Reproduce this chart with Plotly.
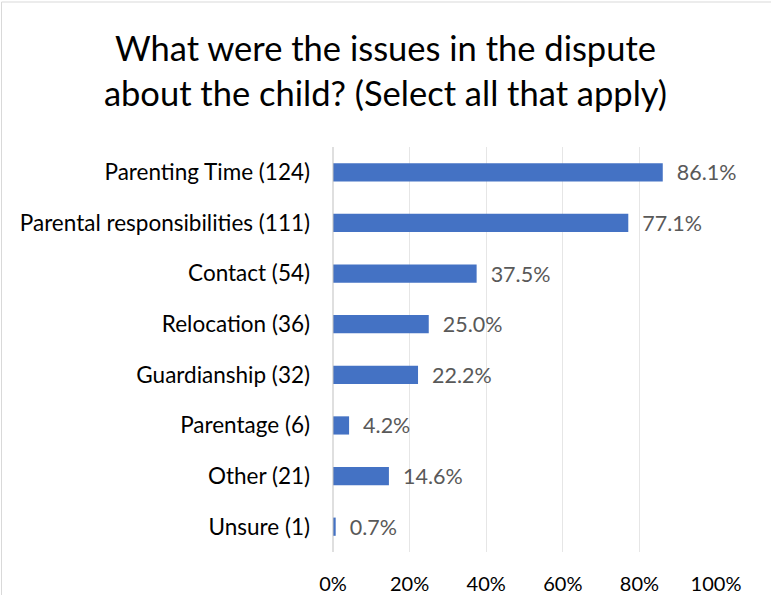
import plotly.graph_objects as go

categories = ["Parenting Time (124)", "Parental responsibilities (111)", "Contact (54)",
              "Relocation (36)", "Guardianship (32)", "Parentage (6)", "Other (21)", "Unsure (1)"]
percent = [86.1, 77.1, 37.5, 25.0, 22.2, 4.2, 14.6, 0.7]
x_ticks = [0, 20, 40, 60, 80, 100]
x_tick_labels = ["0%", "20%", "40%", "60%", "80%", "100%"]

FONT = "Lato, Calibri, Carlito, sans-serif"

fig = go.Figure(go.Bar(
    x=percent, y=categories, orientation="h",
    marker=dict(color="#4472C4", line=dict(width=0)),
    width=0.36,
    text=[f"  {v:.1f}%" for v in percent],
    textposition="outside",
    constraintext="none",
    textfont=dict(family=FONT, size=21.5, color="#595959"),
    cliponaxis=False,
))

L, R, T, B = 333, 55, 147, 43
W, H = 771, 595
pw, ph = W - L - R, H - T - B

def px_x(p):
    return (p - L) / pw

def px_y(p):
    return (T + ph - p) / ph

fig.update_layout(
    width=W, height=H,
    margin=dict(l=L, r=R, t=T, b=B, autoexpand=False),
    paper_bgcolor="white", plot_bgcolor="white",
    font=dict(family=FONT, size=21, color="#000000"),
    title=dict(text="What were the issues in the dispute<br>about the child? (Select all that apply)",
               x=0.5, xref="container", xanchor="center",
               y=1 - 61 / H, yref="container", yanchor="middle",
               font=dict(family=FONT, size=34.5, color="#000000")),
    showlegend=False,
    xaxis=dict(range=[0, 100], tickvals=x_ticks, ticktext=x_tick_labels,
               showgrid=True, gridcolor="#E6E6E6", gridwidth=1,
               zeroline=False, showline=False, ticks="",
               ticklabelstandoff=18, automargin=False,
               tickfont=dict(family=FONT, size=20, color="#000000")),
    yaxis=dict(autorange="reversed", showgrid=False, zeroline=False,
               showline=False, ticks="", ticklabelstandoff=22, automargin=False,
               tickfont=dict(family=FONT, size=22.5, color="#000000")),
    shapes=[
        dict(type="line", xref="paper", yref="paper", x0=0, x1=0, y0=0, y1=1,
             line=dict(color="#BFBFBF", width=1)),
        dict(type="line", xref="paper", yref="paper",
             x0=px_x(1.5), x1=px_x(1.5), y0=px_y(2), y1=px_y(H + 5),
             line=dict(color="#D9D9D9", width=1)),
        dict(type="line", xref="paper", yref="paper",
             x0=px_x(1.5), x1=px_x(W + 5), y0=px_y(2), y1=px_y(2),
             line=dict(color="#D9D9D9", width=1)),
    ],
)

fig.write_html("out.html")
